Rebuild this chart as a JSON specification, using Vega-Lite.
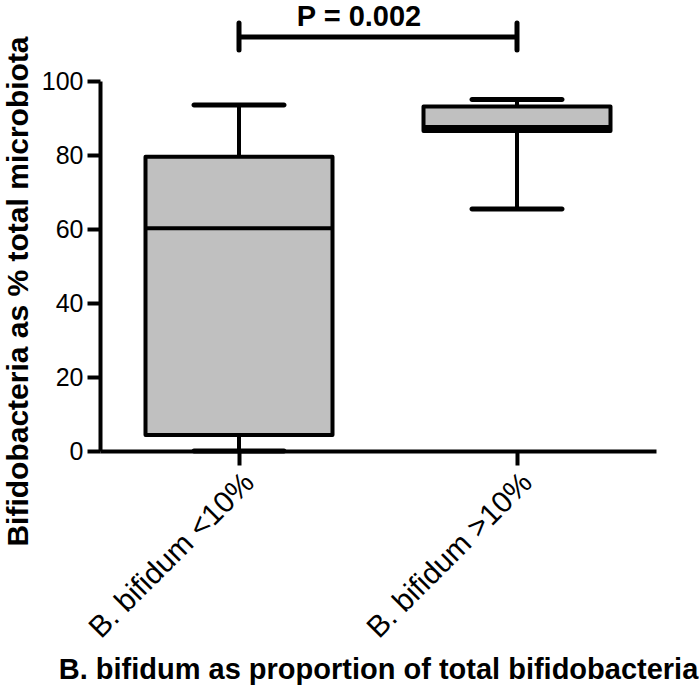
{
  "$schema": "https://vega.github.io/schema/vega-lite/v6.json",
  "width": 556,
  "height": 370,
  "autosize": {"type": "none"},
  "padding": {"left": 100, "top": 81, "right": 44, "bottom": 243},
  "background": "white",
  "datasets": {
    "boxes": [
      {"group": "B. bifidum <10%", "min": 0, "q1": 4.3, "median": 60.2, "q3": 79.5, "max": 93.5},
      {"group": "B. bifidum >10%", "min": 65.4, "q1": 86.5, "median": 87.6, "q3": 93.1, "max": 95.0}
    ],
    "bracket": [
      {"group": "B. bifidum <10%", "group2": "B. bifidum >10%", "y": 111.9, "ty": 117.4, "label": "P = 0.002"}
    ],
    "bracketEnds": [
      {"group": "B. bifidum <10%", "lo": 108.4, "hi": 115.7},
      {"group": "B. bifidum >10%", "lo": 108.4, "hi": 115.7}
    ]
  },
  "encoding": {
    "x": {
      "field": "group", "type": "nominal", "sort": null,
      "scale": {"paddingInner": 0, "paddingOuter": 0},
      "axis": {"title": "B. bifidum as proportion of total bifidobacteria", "labelAngle": -45, "labelFontSize": 30, "labelPadding": 2, "labelLimit": 500, "titleFontSize": 29, "titlePadding": 12}
    }
  },
  "layer": [
    {
      "data": {"name": "boxes"},
      "mark": {"type": "rule", "stroke": "black", "strokeWidth": 4},
      "encoding": {
        "y": {"field": "min", "type": "quantitative", "scale": {"domain": [0, 100], "nice": false}, "title": "Bifidobacteria as % total microbiota", "axis": {"values": [0, 20, 40, 60, 80, 100]}},
        "y2": {"field": "q1"}
      }
    },
    {
      "data": {"name": "boxes"},
      "mark": {"type": "rule", "stroke": "black", "strokeWidth": 4},
      "encoding": {
        "y": {"field": "q3", "type": "quantitative", "title": "Bifidobacteria as % total microbiota"},
        "y2": {"field": "max"}
      }
    },
    {
      "data": {"name": "boxes"},
      "mark": {"type": "tick", "color": "black", "size": 95, "thickness": 5, "cornerRadius": 2.5, "opacity": 1},
      "encoding": {
        "y": {"field": "max", "type": "quantitative", "title": "Bifidobacteria as % total microbiota"}
      }
    },
    {
      "data": {"name": "boxes"},
      "mark": {"type": "tick", "color": "black", "size": 95, "thickness": 5, "cornerRadius": 2.5, "opacity": 1},
      "encoding": {
        "y": {"field": "min", "type": "quantitative", "title": "Bifidobacteria as % total microbiota"}
      }
    },
    {
      "data": {"name": "boxes"},
      "mark": {"type": "bar", "size": 187, "fill": "#c0c0c0", "stroke": "black", "strokeWidth": 4, "strokeJoin": "round"},
      "encoding": {
        "y": {"field": "q1", "type": "quantitative", "title": "Bifidobacteria as % total microbiota"},
        "y2": {"field": "q3"}
      }
    },
    {
      "data": {"name": "boxes"},
      "mark": {"type": "tick", "color": "black", "size": 187, "thickness": 4, "opacity": 1},
      "encoding": {
        "y": {"field": "median", "type": "quantitative", "title": "Bifidobacteria as % total microbiota"}
      }
    },
    {
      "data": {"name": "bracket"},
      "mark": {"type": "rule", "stroke": "black", "strokeWidth": 5},
      "encoding": {
        "x2": {"field": "group2"},
        "y": {"field": "y", "type": "quantitative", "title": "Bifidobacteria as % total microbiota"}
      }
    },
    {
      "data": {"name": "bracket"},
      "mark": {"type": "text", "fontSize": 29, "fontWeight": "bold", "font": "Liberation Sans", "color": "black", "align": "center", "baseline": "middle", "dx": 120},
      "encoding": {
        "y": {"field": "ty", "type": "quantitative", "title": "Bifidobacteria as % total microbiota"},
        "text": {"field": "label"}
      }
    },
    {
      "data": {"name": "bracketEnds"},
      "mark": {"type": "rule", "stroke": "black", "strokeWidth": 5, "strokeCap": "round"},
      "encoding": {
        "y": {"field": "lo", "type": "quantitative", "title": "Bifidobacteria as % total microbiota"},
        "y2": {"field": "hi"}
      }
    }
  ],
  "config": {
    "font": "Liberation Sans",
    "view": {"stroke": null},
    "axis": {
      "domainColor": "black", "domainWidth": 4, "tickColor": "black", "tickWidth": 4,
      "labelColor": "black", "titleColor": "black", "titleFontWeight": "bold", "grid": false,
      "labelFont": "Liberation Sans", "titleFont": "Liberation Sans"
    },
    "axisY": {"tickSize": 13, "labelFontSize": 25, "labelPadding": 4, "titleFontSize": 30, "titlePadding": 8, "titleY": 210},
    "axisX": {"tickSize": 14}
  }
}
